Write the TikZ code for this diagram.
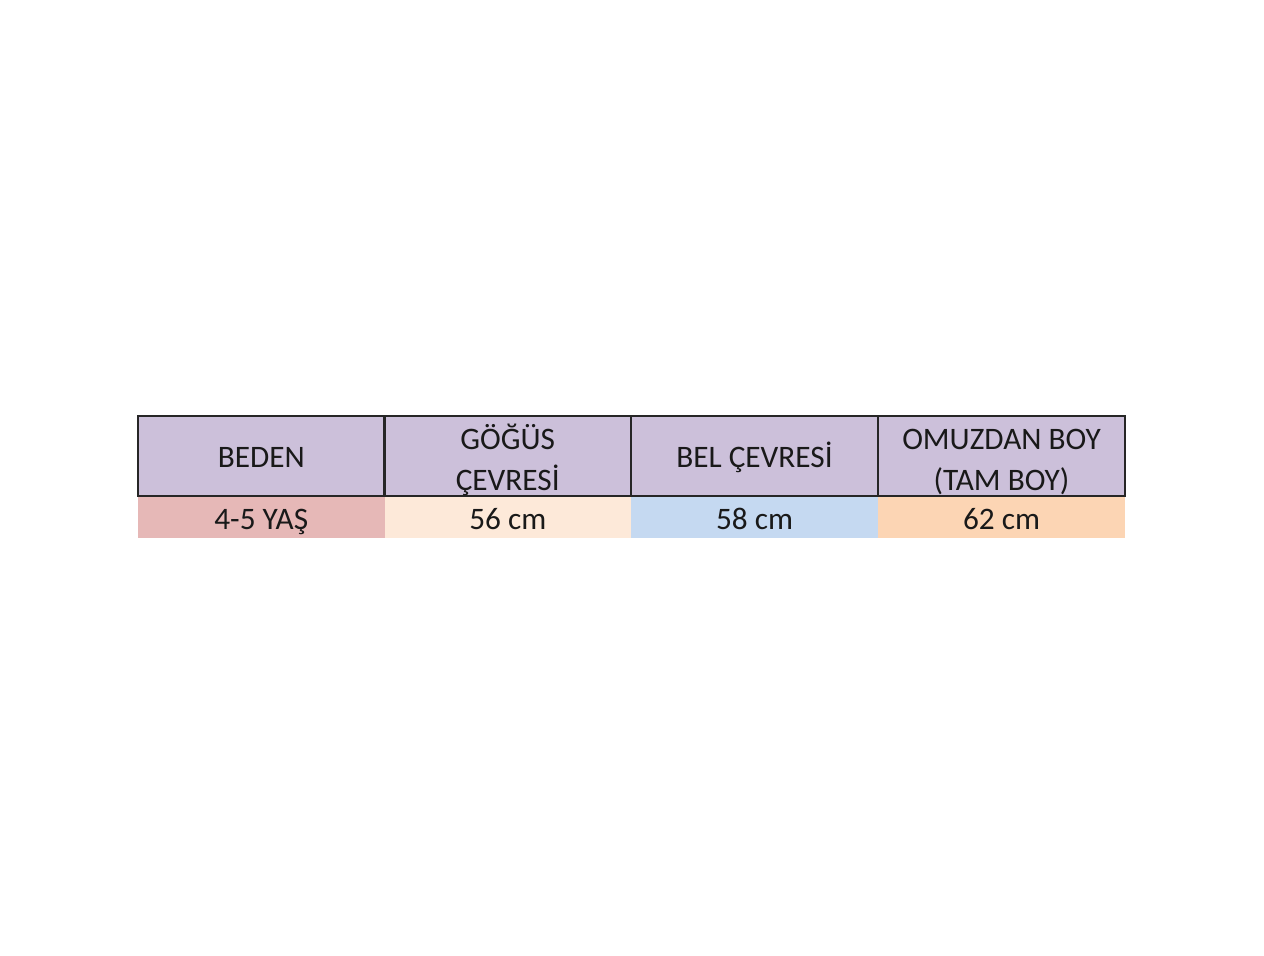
\documentclass[tikz,border=0pt]{standalone}
\usepackage{fontspec}
\setmainfont{Carlito}
\definecolor{headlila}{HTML}{CCC0DA}
\definecolor{cellpink}{HTML}{E6B8B7}
\definecolor{cellpeach}{HTML}{FDE9D9}
\definecolor{cellblue}{HTML}{C5D9F1}
\definecolor{cellorange}{HTML}{FCD5B4}
\tikzset{
    headcell/.style={draw=black!85, line width=0.6pt, fill=headlila, minimum width=2.465cm, minimum height=0.8cm, inner sep=0pt, outer sep=0pt},
    datacell/.style={minimum width=2.465cm, minimum height=0.42cm, inner sep=0pt, outer sep=0pt},
    celltext/.style={anchor=base, inner sep=0pt, align=center, text=black!90, font=\fontsize{8.9}{11.7}\selectfont}
}
\begin{document}
\begin{tikzpicture}
            \useasboundingbox[fill=white] (0,0) rectangle (12.64,9.55);
            \foreach \x/\val/\col [count=\i] in {2.6125/4-5 YAŞ/cellpink, 5.0775/56 cm/cellpeach, 7.545/58 cm/cellblue, 10.015/62 cm/cellorange} {
                    \node[datacell, fill=\col] (d\i) at (\x, 4.38) {};
                    \node[celltext] (dt\i) at ([yshift=-0.13cm]d\i.center) {\val};
                }
            \foreach \x/\txt/\sh [count=\i] in {2.6125/BEDEN/-0.12, 5.0775/{GÖĞÜS\\ÇEVRESİ}/-0.35, 7.545/BEL ÇEVRESİ/-0.12, 10.015/{OMUZDAN BOY\\(TAM BOY)}/-0.35} {
                    \node[headcell] (h\i) at (\x, 4.99) {};
                    \node[celltext] (ht\i) at ([yshift=\sh cm]h\i.center) {\txt};
                }
        \end{tikzpicture}
\end{document}
